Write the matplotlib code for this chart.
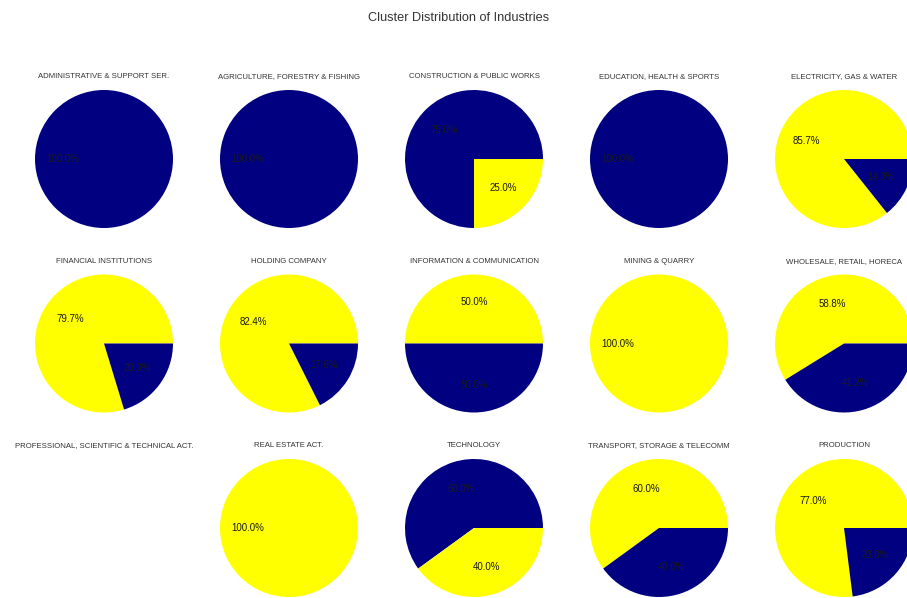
import matplotlib.pyplot as plt

plt.rcParams['font.family'] = ['Liberation Sans', 'DejaVu Sans']

industries = [
    "ADMINISTRATIVE & SUPPORT SER.", "AGRICULTURE, FORESTRY & FISHING",
    "CONSTRUCTION & PUBLIC WORKS", "EDUCATION, HEALTH & SPORTS",
    "ELECTRICITY, GAS & WATER", "FINANCIAL INSTITUTIONS", "HOLDING COMPANY",
    "INFORMATION & COMMUNICATION", "MINING & QUARRY", "WHOLESALE, RETAIL, HORECA",
    "PROFESSIONAL, SCIENTIFIC & TECHNICAL ACT.", "REAL ESTATE ACT.", "TECHNOLOGY",
    "TRANSPORT, STORAGE & TELECOMM", "PRODUCTION",
]
# share of each cluster (percent)
yellow_pct = [0, 0, 25.0, 0, 85.7, 79.7, 82.4, 50.0, 100.0, 58.8, 0, 100.0, 40.0, 60.0, 77.0]
navy_pct = [100.0, 100.0, 75.0, 100.0, 14.3, 20.3, 17.6, 50.0, 0, 41.2, 0, 0, 60.0, 40.0, 23.0]

cluster_colors = {"yellow": "#ffff00", "navy": "#000080"}

fig = plt.figure(figsize=(9.07, 5.98), dpi=100)
W, H = 907, 598
r_px = 69
size = 2.5 * r_px

for i, name in enumerate(industries):
    row, col = divmod(i, 5)
    cx = 104 + 185 * col
    cy = 159 + 184.5 * row
    ax = fig.add_axes([(cx - size / 2) / W, 1 - (cy + size / 2) / H, size / W, size / H])
    ax.set_title(name, fontsize=5.6, color="#333333", y=0.967, pad=0)
    # biggest cluster first, yellow first on ties
    parts = [("yellow", yellow_pct[i]), ("navy", navy_pct[i])]
    parts = [p for p in parts if p[1] > 0]
    parts.sort(key=lambda p: -p[1])
    if not parts:
        ax.axis("off")
        ax.set_xlim(-1.25, 1.25)
        ax.set_ylim(-1.25, 1.25)
        continue
    ax.pie([p[1] for p in parts], colors=[cluster_colors[p[0]] for p in parts],
           autopct="%1.1f%%", textprops={"fontsize": 7, "color": "#1a1a1a"})

fig.text(459 / W, 1 - 18 / H, "Cluster Distribution of Industries",
         ha="center", va="center", fontsize=9.2, color="#333333")

fig.savefig("out.png", dpi=100)
